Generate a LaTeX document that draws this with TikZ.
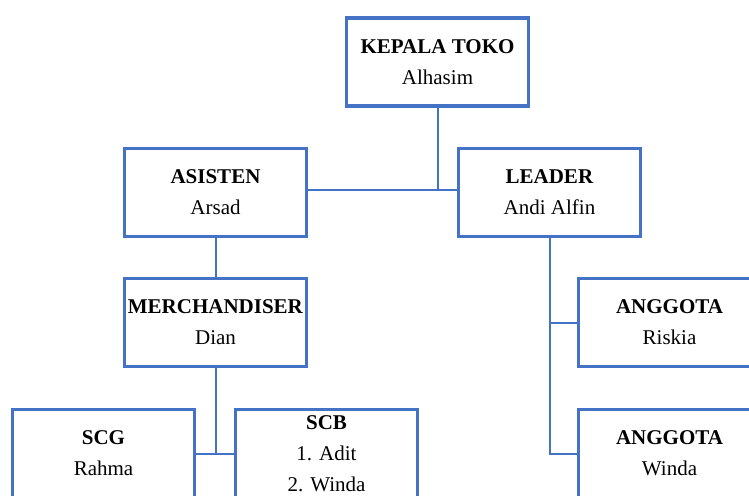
\documentclass[tikz,border=0pt]{standalone}
\usepackage{fontspec}
\setmainfont{Liberation Serif}
\definecolor{obl}{HTML}{4472C4}
\begin{document}
\begin{tikzpicture}[x=1pt,y=-1pt,
  box/.style={draw=obl,line width=3.2pt,fill=white,minimum width=182pt,minimum height=88pt,inner sep=0pt,align=center,font=\fontsize{21}{31}\selectfont},
  con/.style={draw=obl,line width=2pt}]
\useasboundingbox (0,0) rectangle (749,495);
\clip (0,0) rectangle (749,495);
\node[box] (kepala) at (437.5,62) {\textbf{KEPALA TOKO}\\Alhasim};
\node[box] (asisten) at (215.5,192.5) {\textbf{ASISTEN}\\Arsad};
\node[box] (leader) at (549.5,192.5) {\textbf{LEADER}\\Andi Alfin};
\node[box] (merch) at (215.5,322.5) {\textbf{MERCHANDISER}\\Dian};
\node[box] (riskia) at (669.5,322.5) {\textbf{ANGGOTA}\\Riskia};
\node[box] (scg) at (103.5,453.5) {\textbf{SCG}\\Rahma};
\node[box] (scb) at (326.5,453.5) {\textbf{SCB}\\1. Adit\\2. Winda};
\node[box] (winda) at (669.5,453.5) {\textbf{ANGGOTA}\\Winda};
\coordinate (ha) at ([yshift=2.5pt]asisten.east);
\coordinate (hl) at ([yshift=2.5pt]leader.west);
\draw[con] (kepala.south) -- (kepala.south |- ha);
\draw[con] (ha) -- (hl);
\draw[con] (asisten.south) -- (merch.north);
\draw[con] (merch.south) -- (merch.south |- scg.east);
\draw[con] (scg.east) -- (scb.west);
\draw[con] (leader.south) -- (leader.south |- winda.west) -- (winda.west);
\draw[con] (leader.south |- riskia.west) -- (riskia.west);
\end{tikzpicture}
\end{document}
